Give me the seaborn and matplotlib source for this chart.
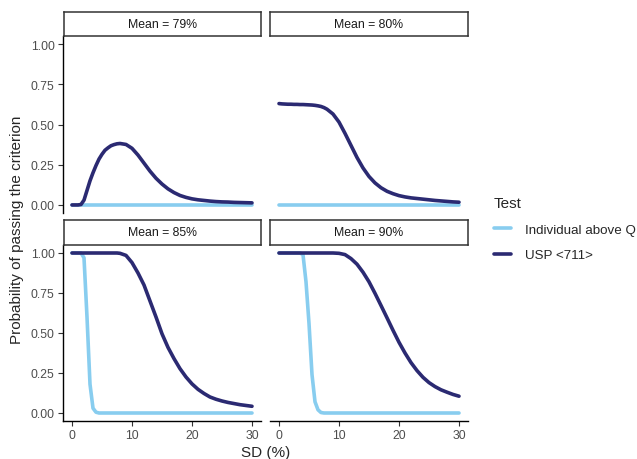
import numpy as np
import pandas as pd
import matplotlib
matplotlib.use("Agg")
import matplotlib.pyplot as plt
import seaborn as sns

sns.set_theme(style="ticks")
plt.rcParams["font.family"] = ["Liberation Sans", "DejaVu Sans"]

# SD grid (%) shared by all curves
sd = [0, 0.5, 1, 1.5, 2, 2.5, 3, 3.5, 4, 4.5, 5, 5.5, 6, 6.5, 7, 7.5, 8,
      9, 10, 11, 12, 13, 14, 15, 16, 17, 18, 19, 20, 21, 22, 23, 24, 25,
      26, 27, 28, 29, 30]

# Mean = 79%
usp_79 = [0, 0, 0, 0.003, 0.03, 0.09, 0.15, 0.20, 0.245, 0.285, 0.315, 0.34,
          0.355, 0.368, 0.375, 0.38, 0.382,
          0.376, 0.352, 0.31, 0.26, 0.21, 0.166, 0.13, 0.10, 0.077, 0.059,
          0.047, 0.038, 0.032, 0.028, 0.024, 0.021, 0.019, 0.018, 0.016,
          0.015, 0.014, 0.013]
ind_79 = [0.0] * len(sd)

# Mean = 80%
usp_80 = [0.63, 0.628, 0.627, 0.626, 0.626, 0.625, 0.625, 0.624, 0.624, 0.623,
          0.622, 0.621, 0.619, 0.616, 0.612, 0.605, 0.595,
          0.565, 0.515, 0.445, 0.37, 0.295, 0.23, 0.177, 0.137, 0.107, 0.085,
          0.07, 0.058, 0.05, 0.044, 0.04, 0.036, 0.032, 0.028, 0.025, 0.022,
          0.019, 0.017]
ind_80 = [0.0] * len(sd)

# Mean = 85%
usp_85 = [1.0, 1.0, 1.0, 1.0, 1.0, 1.0, 1.0, 1.0, 1.0, 1.0, 1.0, 1.0, 1.0,
          1.0, 1.0, 1.0, 0.998,
          0.985, 0.94, 0.875, 0.80, 0.70, 0.60, 0.495, 0.41, 0.34, 0.277,
          0.225, 0.182, 0.148, 0.122, 0.10, 0.086, 0.075, 0.066, 0.059, 0.052,
          0.047, 0.042]
ind_85 = [1.0, 1.0, 1.0, 1.0, 0.97, 0.6, 0.18, 0.03, 0.005, 0, 0, 0, 0, 0,
          0, 0, 0,
          0, 0, 0, 0, 0, 0, 0, 0, 0, 0, 0, 0, 0, 0, 0, 0, 0, 0, 0, 0, 0, 0]

# Mean = 90%
usp_90 = [1.0, 1.0, 1.0, 1.0, 1.0, 1.0, 1.0, 1.0, 1.0, 1.0, 1.0, 1.0, 1.0,
          1.0, 1.0, 1.0, 1.0,
          1.0, 0.998, 0.99, 0.965, 0.93, 0.88, 0.82, 0.748, 0.672, 0.595,
          0.517, 0.442, 0.375, 0.315, 0.265, 0.223, 0.19, 0.165, 0.145, 0.13,
          0.116, 0.105]
ind_90 = [1.0, 1.0, 1.0, 1.0, 1.0, 1.0, 1.0, 1.0, 0.99, 0.82, 0.56, 0.24,
          0.07, 0.02, 0.003, 0, 0,
          0, 0, 0, 0, 0, 0, 0, 0, 0, 0, 0, 0, 0, 0, 0, 0, 0, 0, 0, 0, 0, 0]

means = ["Mean = 79%", "Mean = 80%", "Mean = 85%", "Mean = 90%"]
tests = ["Individual above Q", "USP <711>"]
series = {
    (means[0], tests[0]): ind_79, (means[0], tests[1]): usp_79,
    (means[1], tests[0]): ind_80, (means[1], tests[1]): usp_80,
    (means[2], tests[0]): ind_85, (means[2], tests[1]): usp_85,
    (means[3], tests[0]): ind_90, (means[3], tests[1]): usp_90,
}
df = pd.concat(
    [pd.DataFrame({"sd": sd, "p": vals, "mean": m, "Test": t})
     for (m, t), vals in series.items()],
    ignore_index=True,
)

palette = {"Individual above Q": "#88cdef", "USP <711>": "#2b2a72"}

W, H = 637, 460
fig = plt.figure(figsize=(W / 100, H / 100), dpi=100)


def box(l, t, r, b):
    return [l / W, 1 - b / H, (r - l) / W, (b - t) / H]


panel_px = [(63, 37, 261, 214), (270, 37, 468, 214),
            (63, 246, 261, 422), (270, 246, 468, 422)]
strip_px = [(64, 13, 261, 37), (270, 13, 468, 37),
            (64, 221, 261, 246), (270, 221, 468, 246)]

handles, labels = None, None
for i, m in enumerate(means):
    ax = fig.add_axes(box(*panel_px[i]))
    sub = df[df["mean"] == m]
    sns.lineplot(data=sub, x="sd", y="p", hue="Test", hue_order=tests,
                 palette=palette, linewidth=2.6, ax=ax, legend=(i == 0))
    for line in ax.get_lines():
        line.set_solid_capstyle("round")
        line.set_solid_joinstyle("round")
    if i == 0:
        handles, labels = ax.get_legend_handles_labels()
        ax.get_legend().remove()
    ax.set(xlim=(-1.5, 31.5), ylim=(-0.05, 1.05), xlabel="", ylabel="")
    ax.set_xticks([0, 10, 20, 30])
    ax.set_yticks([0, 0.25, 0.5, 0.75, 1.0])
    ax.set_yticklabels(["0.00", "0.25", "0.50", "0.75", "1.00"])
    is_left = i % 2 == 0
    is_bottom = i >= 2
    for side in ["top", "right"]:
        ax.spines[side].set_visible(False)
    ax.spines["left"].set_visible(is_left)
    ax.spines["bottom"].set_visible(is_bottom)
    for side in ["left", "bottom"]:
        ax.spines[side].set_color("black")
        ax.spines[side].set_linewidth(1.0)
    ax.tick_params(left=is_left, labelleft=is_left,
                   bottom=is_bottom, labelbottom=is_bottom,
                   labelsize=8.8, labelcolor="#4d4d4d", color="#333333",
                   length=3.5, width=0.8, pad=2.5)
    ax.patch.set_alpha(0)

    sx = fig.add_axes(box(*strip_px[i]))
    sx.set_xticks([])
    sx.set_yticks([])
    for sp in sx.spines.values():
        sp.set_color("#333333")
        sp.set_linewidth(1.1)
    sx.text(0.5, 0.5, m, ha="center", va="center", fontsize=8.8,
            color="#1a1a1a", transform=sx.transAxes)

fig.text(265.5 / W, 1 - 453 / H, "SD (%)", ha="center", va="center",
         fontsize=11)
fig.text(17 / W, 1 - 229.5 / H, "Probability of passing the criterion",
         ha="center", va="center", rotation=90, fontsize=11)

leg = fig.legend(handles, labels, title="Test", loc="upper left",
                 bbox_to_anchor=(494 / W, 1 - 197 / H), frameon=False,
                 fontsize=9.6, title_fontsize=11, handlelength=1.3,
                 handletextpad=1.0, labelspacing=1.0, borderpad=0,
                 borderaxespad=0, alignment="left")
for line in leg.get_lines():
    line.set_linewidth(2.6)

fig.savefig("out.png", dpi=100)
